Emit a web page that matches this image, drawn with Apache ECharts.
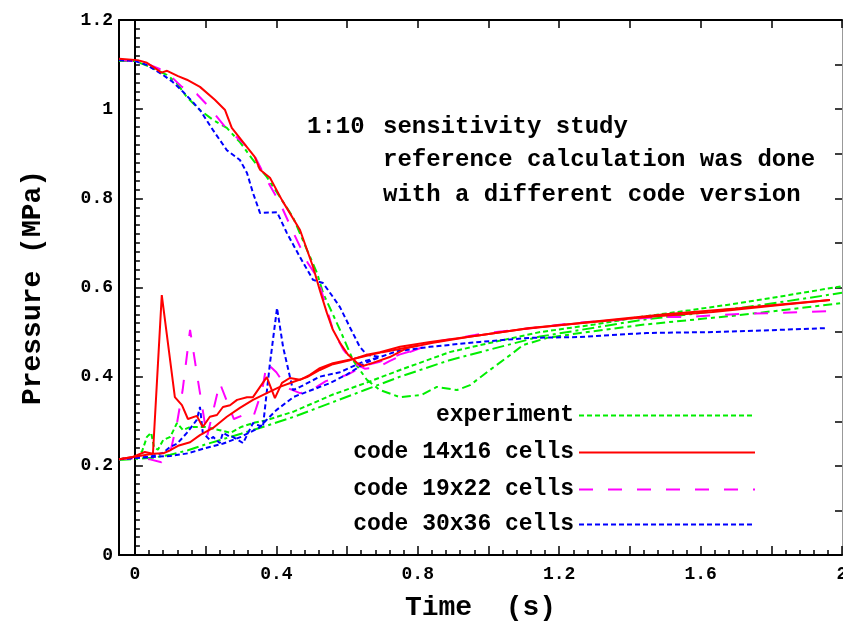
<!DOCTYPE html>
<html>
<head>
<meta charset="utf-8">
<script src="https://cdn.jsdelivr.net/npm/echarts@6/dist/echarts.min.js"></script>
<style>
  html, body { margin: 0; padding: 0; background: #ffffff; }
  #chart { width: 843px; height: 624px; }
</style>
</head>
<body>
<div id="chart"></div>
<script>
// ---- tick labels ----
const xLabels = [0, 0.4, 0.8, 1.2, 1.6, 2];
const xMajorTicks = [0, 0.2, 0.4, 0.6, 0.8, 1.0, 1.2, 1.4, 1.6, 1.8, 2.0];
const yLabels = [0, 0.2, 0.4, 0.6, 0.8, 1, 1.2];

// ---- experiment (green) ----
const expRise_t = [-0.045, 0.0, 0.02, 0.034, 0.046, 0.054, 0.065, 0.08, 0.1, 0.119, 0.136, 0.156, 0.2, 0.24, 0.27, 0.3, 0.334, 0.37, 0.45, 0.56, 0.65, 0.75, 0.89, 1.0, 1.146, 1.3, 1.43, 1.57, 1.71, 1.85, 2.0];
const expRise_p = [0.215, 0.218, 0.232, 0.265, 0.274, 0.242, 0.236, 0.258, 0.265, 0.296, 0.28, 0.287, 0.287, 0.28, 0.274, 0.287, 0.296, 0.302, 0.322, 0.36, 0.385, 0.415, 0.455, 0.475, 0.50, 0.517, 0.534, 0.549, 0.565, 0.583, 0.603];

const expDrop_t = [-0.045, 0.0, 0.042, 0.09, 0.118, 0.147, 0.184, 0.221, 0.26, 0.297, 0.334, 0.373, 0.41, 0.447, 0.487, 0.515, 0.532, 0.58, 0.617, 0.656, 0.693, 0.75, 0.81, 0.854, 0.911, 0.948, 1.004, 1.069, 1.098, 1.166, 1.26, 1.43, 1.71, 2.0];
const expDrop_p = [1.108, 1.108, 1.095, 1.077, 1.059, 1.027, 0.998, 0.976, 0.958, 0.926, 0.886, 0.848, 0.803, 0.758, 0.684, 0.633, 0.588, 0.505, 0.437, 0.393, 0.37, 0.354, 0.359, 0.377, 0.37, 0.381, 0.415, 0.453, 0.471, 0.487, 0.498, 0.516, 0.538, 0.565];

const expUpper_t = [-0.045, 0.05, 0.1, 0.15, 0.2, 0.25, 0.3, 0.373, 0.45, 0.56, 0.65, 0.75, 0.89, 1.0, 1.146, 1.3, 1.43, 1.57, 1.71, 1.85, 2.0];
const expUpper_p = [0.213, 0.218, 0.225, 0.235, 0.248, 0.26, 0.272, 0.29, 0.31, 0.343, 0.37, 0.40, 0.437, 0.46, 0.49, 0.51, 0.527, 0.54, 0.554, 0.57, 0.588];

// ---- code 14x16 cells (red) ----
const c14Drop_t = [-0.045, 0.008, 0.034, 0.057, 0.075, 0.091, 0.122, 0.147, 0.184, 0.226, 0.255, 0.274, 0.317, 0.339, 0.354, 0.382, 0.416, 0.467, 0.504, 0.523, 0.543, 0.56, 0.58, 0.603, 0.628, 0.645, 0.673, 0.721, 0.769, 0.843, 0.95, 1.1, 1.3, 1.5, 1.7, 1.966];
const c14Drop_p = [1.113, 1.11, 1.104, 1.092, 1.082, 1.086, 1.074, 1.066, 1.05, 1.021, 0.998, 0.958, 0.915, 0.893, 0.864, 0.846, 0.796, 0.729, 0.646, 0.594, 0.543, 0.505, 0.476, 0.449, 0.431, 0.424, 0.431, 0.444, 0.464, 0.476, 0.49, 0.507, 0.524, 0.54, 0.553, 0.572];

const c14Rise_t = [-0.045, 0.051, 0.08, 0.1, 0.122, 0.156, 0.184, 0.221, 0.26, 0.297, 0.334, 0.373, 0.41, 0.447, 0.487, 0.523, 0.56, 0.608, 0.656, 0.693, 0.75, 0.835, 0.976, 1.117, 1.259, 1.448, 1.635, 1.825, 1.966];
const c14Rise_p = [0.215, 0.227, 0.228, 0.235, 0.245, 0.253, 0.269, 0.285, 0.31, 0.33, 0.348, 0.363, 0.377, 0.388, 0.399, 0.415, 0.428, 0.437, 0.449, 0.455, 0.467, 0.478, 0.493, 0.509, 0.52, 0.534, 0.545, 0.561, 0.572];

const c14Spike_t = [-0.045, -0.006, 0.028, 0.051, 0.076, 0.113, 0.133, 0.15, 0.175, 0.192, 0.212, 0.232, 0.249, 0.269, 0.289, 0.317, 0.334, 0.373, 0.396, 0.416, 0.438, 0.467, 0.495, 0.523, 0.56, 0.62, 0.7, 0.8];
const c14Spike_p = [0.215, 0.22, 0.231, 0.227, 0.583, 0.354, 0.336, 0.305, 0.312, 0.287, 0.31, 0.314, 0.332, 0.336, 0.348, 0.354, 0.354, 0.399, 0.352, 0.386, 0.397, 0.393, 0.404, 0.419, 0.43, 0.44, 0.455, 0.47];

// ---- code 19x22 cells (magenta) ----
const c19Drop_t = [-0.045, 0.0, 0.04, 0.07, 0.1, 0.133, 0.175, 0.212, 0.255, 0.306, 0.334, 0.373, 0.41, 0.45, 0.489, 0.515, 0.54, 0.56, 0.59, 0.62, 0.65, 0.685, 0.72, 0.76, 0.8, 0.863, 0.996, 1.146, 1.239, 1.318, 1.4, 1.485, 1.564, 1.646, 1.728, 1.816, 1.895, 1.966];
const c19Drop_p = [1.11, 1.108, 1.10, 1.09, 1.075, 1.05, 1.034, 1.003, 0.96, 0.924, 0.902, 0.841, 0.79, 0.72, 0.655, 0.624, 0.56, 0.505, 0.46, 0.43, 0.418, 0.42, 0.435, 0.45, 0.462, 0.48, 0.498, 0.511, 0.52, 0.525, 0.529, 0.534, 0.534, 0.538, 0.541, 0.543, 0.545, 0.547];

const c19Rise_t = [-0.045, 0.0, 0.04, 0.075, 0.1, 0.12, 0.135, 0.156, 0.178, 0.204, 0.24, 0.28, 0.31, 0.335, 0.36, 0.373, 0.40, 0.43, 0.467, 0.50, 0.54, 0.6, 0.65, 0.69, 0.75, 0.8];
const c19Rise_p = [0.215, 0.217, 0.215, 0.208, 0.23, 0.30, 0.37, 0.505, 0.393, 0.265, 0.386, 0.305, 0.315, 0.31, 0.37, 0.43, 0.41, 0.375, 0.363, 0.37, 0.39, 0.404, 0.425, 0.433, 0.45, 0.462];

// ---- code 30x36 cells (blue) ----
const c30Drop_t = [-0.045, 0.0, 0.034, 0.079, 0.107, 0.136, 0.164, 0.184, 0.221, 0.26, 0.297, 0.317, 0.334, 0.354, 0.402, 0.43, 0.467, 0.504, 0.532, 0.56, 0.58, 0.608, 0.636, 0.656, 0.693, 0.741, 0.835, 0.976, 1.117, 1.259, 1.448, 1.635, 1.825, 1.958];
const c30Drop_p = [1.11, 1.108, 1.099, 1.077, 1.061, 1.039, 1.016, 0.998, 0.953, 0.908, 0.886, 0.857, 0.812, 0.767, 0.769, 0.722, 0.668, 0.617, 0.61, 0.579, 0.556, 0.511, 0.467, 0.449, 0.444, 0.457, 0.467, 0.478, 0.487, 0.489, 0.498, 0.50, 0.505, 0.509];

const c30Spike_t = [-0.045, 0.0, 0.04, 0.079, 0.099, 0.12, 0.147, 0.175, 0.184, 0.192, 0.212, 0.221, 0.24, 0.249, 0.269, 0.277, 0.306, 0.334, 0.362, 0.382, 0.402, 0.419, 0.447, 0.467, 0.523, 0.58, 0.65, 0.693];
const c30Spike_p = [0.215, 0.218, 0.22, 0.229, 0.242, 0.25, 0.274, 0.303, 0.332, 0.274, 0.258, 0.265, 0.251, 0.274, 0.265, 0.265, 0.251, 0.296, 0.287, 0.43, 0.554, 0.467, 0.37, 0.377, 0.40, 0.41, 0.435, 0.444];

const c30Rise_t = [-0.045, 0.05, 0.1, 0.15, 0.2, 0.25, 0.3, 0.35, 0.4, 0.45, 0.5, 0.55, 0.6, 0.65, 0.693];
const c30Rise_p = [0.215, 0.22, 0.222, 0.228, 0.24, 0.25, 0.265, 0.285, 0.325, 0.355, 0.37, 0.385, 0.405, 0.43, 0.444];

// ---- styles ----
const GREEN = '#00ee00', RED = '#ff0000', MAGENTA = '#ff00ff', BLUE = '#0000ff';
const FONT = '"Liberation Mono", "DejaVu Sans Mono", monospace';
const SHORT_DASH = [5, 3];
const LONG_DASH = [14, 15];
const DASH_DOT = [12, 4, 3, 4];
const DASH_DOT_B = [9, 4, 4, 4];

const pairs = (t, p) => t.map((x, i) => [x, p[i]]);

function curve(name, t, p, color, type) {
  return {
    name: name,
    type: 'line',
    data: pairs(t, p),
    xAxisIndex: 0,
    yAxisIndex: 0,
    symbol: 'none',
    silent: true,
    itemStyle: { color: color },
    lineStyle: { color: color, width: 2, type: type },
    emphasis: { disabled: true }
  };
}

const minorX = [];
for (let v = 0.04; v < 2.0001; v += 0.04) minorX.push(+v.toFixed(2));

const legendBase = {
  right: 87,
  orient: 'vertical',
  align: 'right',
  itemWidth: 176,
  itemHeight: 12,
  padding: 0,
  selectedMode: false,
  itemStyle: { opacity: 0 },
  textStyle: { fontFamily: FONT, fontWeight: 'bold', fontSize: 23, color: '#000' }
};

const chart = echarts.init(document.getElementById('chart'), null, { renderer: 'canvas' });
chart.setOption({
  animation: false,
  backgroundColor: '#ffffff',
  grid: { left: 119, right: 1, top: 20, bottom: 69, outerBoundsMode: 'none', containLabel: false },
  xAxis: [
    {
      type: 'value', position: 'bottom', min: -0.045, max: 2.0,
      name: 'Time  (s)', nameLocation: 'middle', nameGap: 39,
      nameTextStyle: { fontFamily: FONT, fontWeight: 'bold', fontSize: 28, color: '#000' },
      axisLine: { onZero: false, lineStyle: { color: '#000', width: 2 } },
      axisTick: { show: true, inside: true, length: 9, customValues: xMajorTicks, lineStyle: { color: '#000', width: 1.5 } },
      axisLabel: { customValues: xLabels, margin: 10, fontFamily: FONT, fontWeight: 'bold', fontSize: 18, color: '#000' },
      splitLine: { show: false }
    },
    {
      type: 'value', position: 'bottom', min: -0.045, max: 2.0,
      axisLine: { show: false, onZero: false },
      axisTick: { show: true, inside: true, length: 5, customValues: minorX, lineStyle: { color: '#000', width: 1.5 } },
      axisLabel: { show: false },
      splitLine: { show: false }
    },
    {
      type: 'value', position: 'top', min: -0.045, max: 2.0,
      axisLine: { onZero: false, lineStyle: { color: '#000', width: 2 } },
      axisTick: { show: true, inside: true, length: 8, customValues: xMajorTicks, lineStyle: { color: '#000', width: 1.5 } },
      axisLabel: { show: false },
      splitLine: { show: false }
    }
  ],
  yAxis: [
    {
      // vertical line at t = 0 carrying the fine ticks
      type: 'value', position: 'left', min: 0, max: 1.2, interval: 0.2,
      axisLine: { show: true, onZero: true, lineStyle: { color: '#000', width: 2 } },
      axisTick: { show: true, inside: true, length: 8, lineStyle: { color: '#000', width: 1.5 } },
      minorTick: { show: true, splitNumber: 10, length: 5, lineStyle: { color: '#000', width: 1.5 } },
      axisLabel: { show: false },
      splitLine: { show: false }
    },
    {
      type: 'value', position: 'left', min: 0, max: 1.2,
      name: 'Pressure (MPa)', nameLocation: 'middle', nameGap: 72, nameRotate: 90,
      nameTextStyle: { fontFamily: FONT, fontWeight: 'bold', fontSize: 28, color: '#000' },
      axisLine: { show: true, onZero: false, lineStyle: { color: '#000', width: 2 } },
      axisTick: { show: false },
      axisLabel: { customValues: yLabels, margin: 6, fontFamily: FONT, fontWeight: 'bold', fontSize: 18, color: '#000' },
      splitLine: { show: false }
    },
    {
      type: 'value', position: 'right', min: 0, max: 1.2, interval: 0.1,
      axisLine: { show: true, onZero: false, lineStyle: { color: '#999', width: 1 } },
      axisTick: { show: true, inside: true, length: 7, lineStyle: { color: '#000', width: 1.5 } },
      axisLabel: { show: false },
      splitLine: { show: false }
    }
  ],
  legend: [
    Object.assign({}, legendBase, { top: 404, data: ['experiment'] }),
    Object.assign({}, legendBase, { top: 441, data: ['code 14x16 cells'] }),
    Object.assign({}, legendBase, { top: 478, data: ['code 19x22 cells'] }),
    Object.assign({}, legendBase, { top: 513, data: ['code 30x36 cells'] })
  ],
  graphic: [
    { type: 'text', left: 307, top: 115, style: { text: '1:10', font: 'bold 24px ' + FONT, fill: '#000' } },
    { type: 'text', left: 383, top: 115, style: { text: 'sensitivity study', font: 'bold 24px ' + FONT, fill: '#000' } },
    { type: 'text', left: 383, top: 148, style: { text: 'reference calculation was done', font: 'bold 24px ' + FONT, fill: '#000' } },
    { type: 'text', left: 383, top: 183, style: { text: 'with a different code version', font: 'bold 24px ' + FONT, fill: '#000' } }
  ],
  series: [
    curve('experiment', expRise_t, expRise_p, GREEN, SHORT_DASH),
    curve('experiment', expUpper_t, expUpper_p, GREEN, DASH_DOT),
    curve('experiment', expDrop_t, expDrop_p, GREEN, DASH_DOT_B),
    curve('code 19x22 cells', c19Drop_t, c19Drop_p, MAGENTA, LONG_DASH),
    curve('code 19x22 cells', c19Rise_t, c19Rise_p, MAGENTA, LONG_DASH),
    curve('code 30x36 cells', c30Drop_t, c30Drop_p, BLUE, SHORT_DASH),
    curve('code 30x36 cells', c30Spike_t, c30Spike_p, BLUE, SHORT_DASH),
    curve('code 30x36 cells', c30Rise_t, c30Rise_p, BLUE, SHORT_DASH),
    curve('code 14x16 cells', c14Drop_t, c14Drop_p, RED, 'solid'),
    curve('code 14x16 cells', c14Rise_t, c14Rise_p, RED, 'solid'),
    curve('code 14x16 cells', c14Spike_t, c14Spike_p, RED, 'solid')
  ]
});
</script>
</body>
</html>
